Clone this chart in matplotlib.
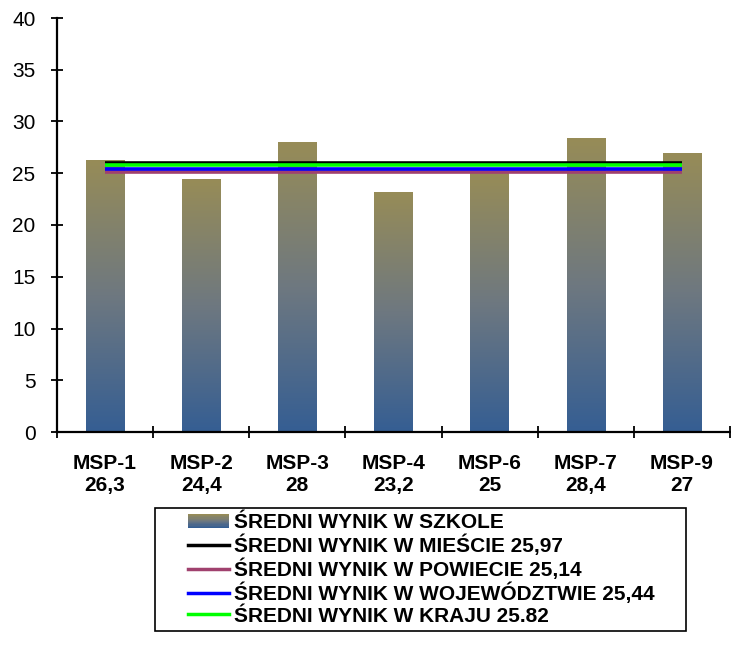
import numpy as np
import matplotlib
matplotlib.use('Agg')
import matplotlib.pyplot as plt
from matplotlib.colors import LinearSegmentedColormap
from matplotlib.legend_handler import HandlerBase
from matplotlib.lines import Line2D
from matplotlib.patches import Rectangle

plt.rcParams['font.family'] = ['Liberation Sans', 'DejaVu Sans']

# dane
szkoly = ['MSP-1', 'MSP-2', 'MSP-3', 'MSP-4', 'MSP-6', 'MSP-7', 'MSP-9']
wyniki_txt = ['26,3', '24,4', '28', '23,2', '25', '28,4', '27']
wyniki = [26.3, 24.4, 28.0, 23.2, 25.0, 28.4, 27.0]

srednie_nazwy = ['ŚREDNI WYNIK W MIEŚCIE 25,97',
                 'ŚREDNI WYNIK W POWIECIE 25,14',
                 'ŚREDNI WYNIK W WOJEWÓDZTWIE 25,44',
                 'ŚREDNI WYNIK W KRAJU 25.82']
srednie = [25.97, 25.14, 25.44, 25.82]
srednie_kolory = ['black', '#A0416E', '#0000FF', '#00FF00']

# gradient slupkow: dol niebieski, gora oliwkowa
cmap = LinearSegmentedColormap.from_list('slupek', ['#355E93', '#6E7880', '#978C57'])


class GradientHandler(HandlerBase):
    def create_artists(self, legend, orig, xdescent, ydescent, width, height, fontsize, trans):
        x0 = -xdescent + width * 0.4
        w = width - width * 0.4
        n = 12
        arts = []
        for i in range(n):
            r = Rectangle((x0, -ydescent + height * i / n), w, height / n + 0.3,
                          facecolor=cmap(i / (n - 1)), edgecolor='none', transform=trans)
            arts.append(r)
        return arts


class ShiftedLineHandler(HandlerBase):
    def create_artists(self, legend, orig, xdescent, ydescent, width, height, fontsize, trans):
        x0 = -xdescent + width * 0.4
        y = -ydescent + height / 2
        l = Line2D([x0, -xdescent + width], [y, y], color=orig.get_color(),
                   lw=2.5, transform=trans)
        return [l]


fig = plt.figure(figsize=(7.31, 6.45), dpi=100)
ax = fig.add_axes([57 / 731, 1 - 432 / 645, (730 - 57) / 731, (432 - 18) / 645])

x = np.arange(len(szkoly))
bars = ax.bar(x, wyniki, width=0.4, color='none', edgecolor='none')
grad = np.linspace(0, 1, 256).reshape(-1, 1)
for b in bars:
    im = ax.imshow(grad, cmap=cmap, origin='lower', aspect='auto',
                   extent=(b.get_x(), b.get_x() + b.get_width(), 0, b.get_height()),
                   interpolation='bilinear', zorder=1)
    im.set_clip_path(b)

linie = []
for val, kol, naz in zip(srednie, srednie_kolory, srednie_nazwy):
    ln, = ax.plot(x, [val] * len(x), color=kol, lw=2.6, solid_capstyle='butt', zorder=3)
    linie.append(ln)
# zielona na wierzchu
linie[3].set_zorder(4)

ax.set_xlim(-0.5, len(szkoly) - 0.5)
ax.set_ylim(0, 40)
ax.set_yticks(np.arange(0, 41, 5))

ax.set_xticks(np.arange(-0.5, len(szkoly)), labels=[''] * (len(szkoly) + 1))
ax.set_xticks(x, minor=True)
ax.set_xticklabels([s + '\n' + w for s, w in zip(szkoly, wyniki_txt)], minor=True,
                   fontsize=15, fontweight='bold')
ax.tick_params(axis='x', which='minor', length=0, pad=16)
ax.tick_params(axis='x', which='major', direction='inout', length=9, width=1.3)
ax.tick_params(axis='y', direction='inout', length=9, width=1.3, labelsize=15, pad=11)

for s in ['top', 'right']:
    ax.spines[s].set_visible(False)
for s in ['left', 'bottom']:
    ax.spines[s].set_linewidth(1.6)

gradient_proxy = Rectangle((0, 0), 1, 1)
handles = [gradient_proxy] + linie
labels = ['ŚREDNI WYNIK W SZKOLE'] + srednie_nazwy
handler_map = {gradient_proxy: GradientHandler()}
for ln in linie:
    handler_map[ln] = ShiftedLineHandler()

leg = fig.legend(handles, labels, handler_map=handler_map,
                 loc='upper left', bbox_to_anchor=(155 / 731, 1 - 508 / 645, (686 - 155) / 731, 0.0),
                 mode='expand', prop={'size': 15, 'weight': 'bold'},
                 handlelength=3.3, handleheight=0.65, handletextpad=0.25,
                 labelspacing=0.12, borderpad=0.25, borderaxespad=0,
                 fancybox=False, edgecolor='black', framealpha=1)
leg.get_frame().set_linewidth(1.2)

fig.savefig('out.png', dpi=100)
